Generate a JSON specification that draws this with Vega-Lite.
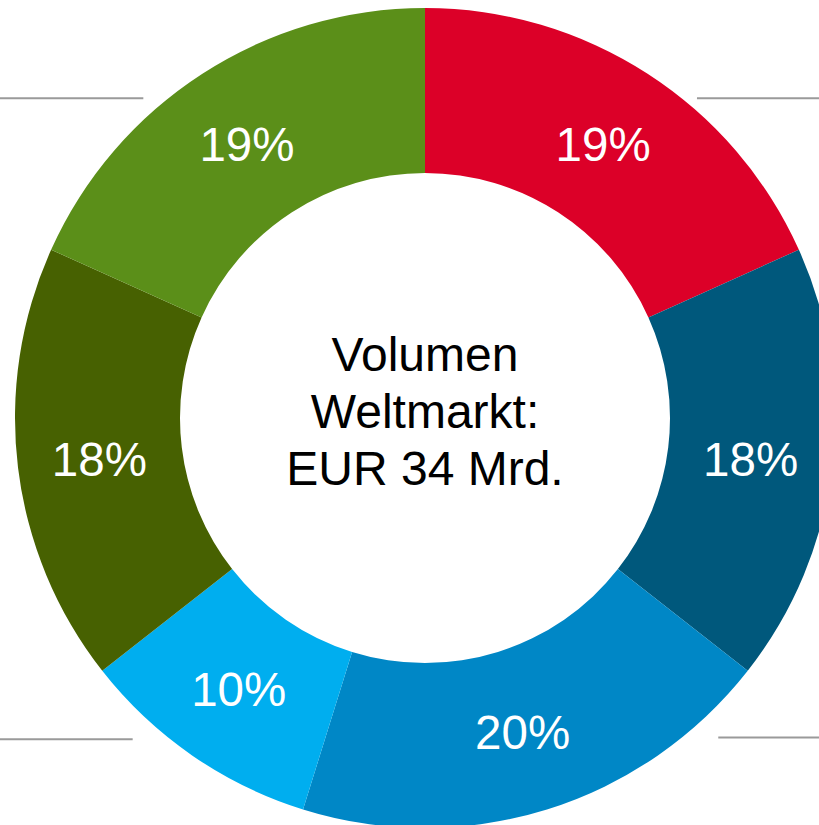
{
  "$schema": "https://vega.github.io/schema/vega-lite/v6.json",
  "autosize": "none",
  "width": 788,
  "height": 814,
  "padding": {"left": 31, "top": 11, "right": 0, "bottom": 0},
  "background": "white",
  "config": {"view": {"stroke": null}, "font": "Liberation Sans"},
  "datasets": {
    "slices": [
      {"segment": "A", "order": 1, "share": 19, "label": "19%"},
      {"segment": "B", "order": 2, "share": 18, "label": "18%"},
      {"segment": "C", "order": 3, "share": 20, "label": "20%"},
      {"segment": "D", "order": 4, "share": 10, "label": "10%"},
      {"segment": "E", "order": 5, "share": 18, "label": "18%"},
      {"segment": "F", "order": 6, "share": 19, "label": "19%"}
    ],
    "lines": [
      {"x1": 0, "x2": 17.5, "y": 11.9},
      {"x1": 85.1, "x2": 100, "y": 11.9},
      {"x1": 0, "x2": 16.2, "y": 89.6},
      {"x1": 87.7, "x2": 100, "y": 89.4}
    ],
    "center": [{"text": "Volumen\nWeltmarkt:\nEUR 34 Mrd."}]
  },
  "layer": [
    {
      "data": {"name": "lines"},
      "mark": {"type": "rule", "color": "#9a9a9a", "strokeWidth": 2, "clip": false},
      "encoding": {
        "x": {"field": "x1", "type": "quantitative", "axis": null, "scale": {"domain": [0, 100], "range": [-31, 788]}},
        "x2": {"field": "x2"},
        "y": {"field": "y", "type": "quantitative", "axis": null, "scale": {"domain": [0, 100], "range": [-11, 814]}}
      }
    },
    {
      "data": {"name": "slices"},
      "mark": {"type": "arc", "innerRadius": 245, "outerRadius": 410, "stroke": null},
      "encoding": {
        "theta": {"field": "share", "type": "quantitative", "stack": true},
        "order": {"field": "order", "type": "quantitative"},
        "color": {
          "field": "segment",
          "type": "nominal",
          "legend": null,
          "scale": {
            "domain": ["A", "B", "C", "D", "E", "F"],
            "range": ["#DC0028", "#00587C", "#0087C6", "#00AEEF", "#476101", "#5B8F19"]
          }
        }
      }
    },
    {
      "data": {"name": "slices"},
      "mark": {"type": "text", "radius": 328, "fontSize": 47.5, "color": "white", "baseline": "middle", "align": "center", "dy": 4},
      "encoding": {
        "theta": {"field": "share", "type": "quantitative", "stack": true},
        "order": {"field": "order", "type": "quantitative"},
        "text": {"field": "label", "type": "nominal"}
      }
    },
    {
      "data": {"name": "center"},
      "mark": {"type": "text", "fontSize": 48, "lineHeight": 57, "color": "black", "baseline": "middle", "align": "center", "lineBreak": "\n", "dy": -61},
      "encoding": {
        "text": {"field": "text", "type": "nominal"}
      }
    }
  ]
}
